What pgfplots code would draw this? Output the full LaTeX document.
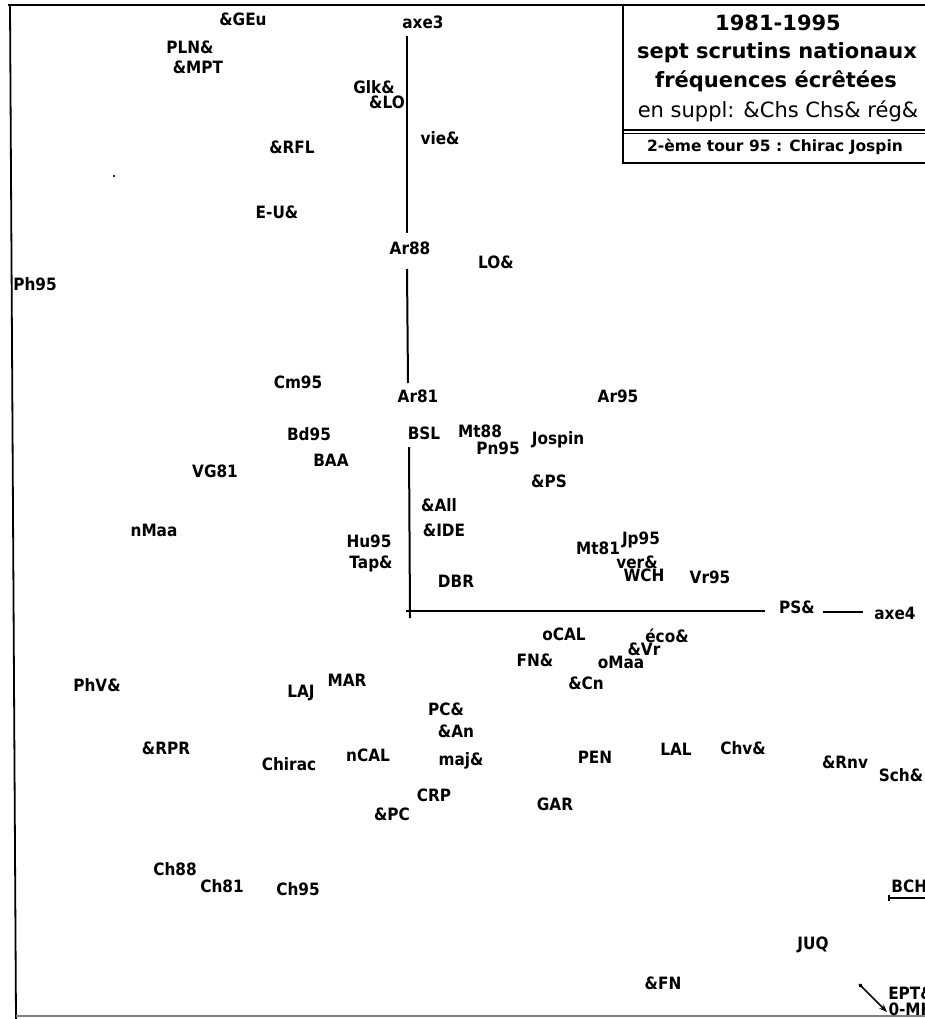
\documentclass[border=0pt]{standalone}
\usepackage{pgfplots}
\pgfplotsset{compat=1.18}
\usepackage{pgfplotstable}
\usepackage{fontspec}
\setmainfont{DejaVu Sans}
\usetikzlibrary{arrows.meta}

% label positions, in picture pixels (y counted from the top)
\pgfplotstableread{
x y label
243 19 \&GEu
190 47 PLN\&
198 67 \&MPT
423 22 axe3
374 87 Glk\&
387 102 \&LO
440 138 vie\&
292 147 \&RFL
277 212 E-U\&
410 248 Ar88
496 262 LO\&
35 284 Ph95
298 382 Cm95
418 396 Ar81
618 396 Ar95
309 434 Bd95
424 433 BSL
480 431 Mt88
498 448 Pn95
558 440 Jospin
331 460 BAA
215 471 VG81
549 481 \&PS
439 505 \&All
444 530 \&IDE
154 530 nMaa
369 541 Hu95
371 564 Tap\&
598 548 Mt81
641 540 Jp95
637 562 ver\&
644 575 WCH
710 577 Vr95
456 581 DBR
797 607 PS\&
895 613 axe4
564 634 oCAL
667 636 éco\&
644 649 \&Vr
621 662 oMaa
535 660 FN\&
586 683 \&Cn
97 685 PhV\&
301 693 LAJ
347 680 MAR
446 709 PC\&
456 731 \&An
166 748 \&RPR
289 764 Chirac
368 755 nCAL
461 761 maj\&
595 757 PEN
676 749 LAL
743 748 Chv\&
845 762 \&Rnv
901 775 Sch\&
434 795 CRP
555 804 GAR
392 814 \&PC
175 869 Ch88
222 886 Ch81
298 889 Ch95
916 886 BCH\&
813 945 JUQ
663 983 \&FN
911 993 EPT\&
911 1009 0-MH
}\labels

\begin{document}
\begin{tikzpicture}
\begin{axis}[
    scale only axis,
    width=925pt, height=1019pt,
    xmin=0, xmax=925, ymin=0, ymax=1019,
    y dir=reverse,
    axis lines=none,
    clip=false,
]
% frame
\addplot[black, line width=2pt] coordinates {(8,5) (930,5)};
\addplot[black, line width=1.8pt] coordinates {(10,5) (16,1019)};
\addplot[gray, line width=1.2pt] coordinates {(16,1016) (930,1016)};
% title box
\addplot[black, line width=1.8pt] coordinates {(623,5) (623,163) (930,163)};
\addplot[black, line width=1.8pt] coordinates {(623,130) (930,130)};
\addplot[black, line width=1pt] coordinates {(623,133.5) (930,133.5)};
% axes 3 and 4
\addplot[black, line width=2pt] coordinates {(407,36) (407,233)};
\addplot[black, line width=2pt] coordinates {(407,269) (408,383)};
\addplot[black, line width=2pt] coordinates {(409,447) (410,618)};
\addplot[black, line width=2pt] coordinates {(406,611) (765,611)};
\addplot[black, line width=2pt] coordinates {(823,612) (863,612)};
% stray dot
\addplot[only marks, mark=*, mark size=0.9pt] coordinates {(114,176)};
% pointers at the right edge
\addplot[black, line width=1.5pt, {Bar[width=6pt]}-] coordinates {(888,898) (930,898)};
\addplot[black, line width=1.5pt, {Circle[length=4pt]}-{Stealth[length=8pt]}] coordinates {(859,984) (887,1012)};
% labels
\addplot[only marks, mark=none,
    nodes near coords={\scalebox{0.9}[1]{\pgfplotspointmeta}},
    point meta=explicit symbolic,
    every node near coord/.append style={anchor=center, inner sep=0pt,
        font=\bfseries\fontsize{17}{19}\selectfont}]
    table[x=x, y=y, meta=label] {\labels};
% title
\node[font=\bfseries\fontsize{21}{24}\selectfont] at (axis cs:778,23) {1981-1995};
\node[font=\bfseries\fontsize{21}{24}\selectfont] at (axis cs:777,53) {sept scrutins nationaux};
\node[font=\bfseries\fontsize{21}{24}\selectfont] at (axis cs:776,81) {fréquences écrêtées};
\node[font=\fontsize{21}{24}\selectfont] at (axis cs:778,111) {en suppl: \&Chs Chs\& rég\&};
\node[font=\bfseries\fontsize{15.5}{18}\selectfont] at (axis cs:775,147) {2-ème tour 95 : Chirac Jospin};
\end{axis}
\pgfresetboundingbox
\path[use as bounding box] (0,0) rectangle (925pt,1019pt);
\end{tikzpicture}
\end{document}
